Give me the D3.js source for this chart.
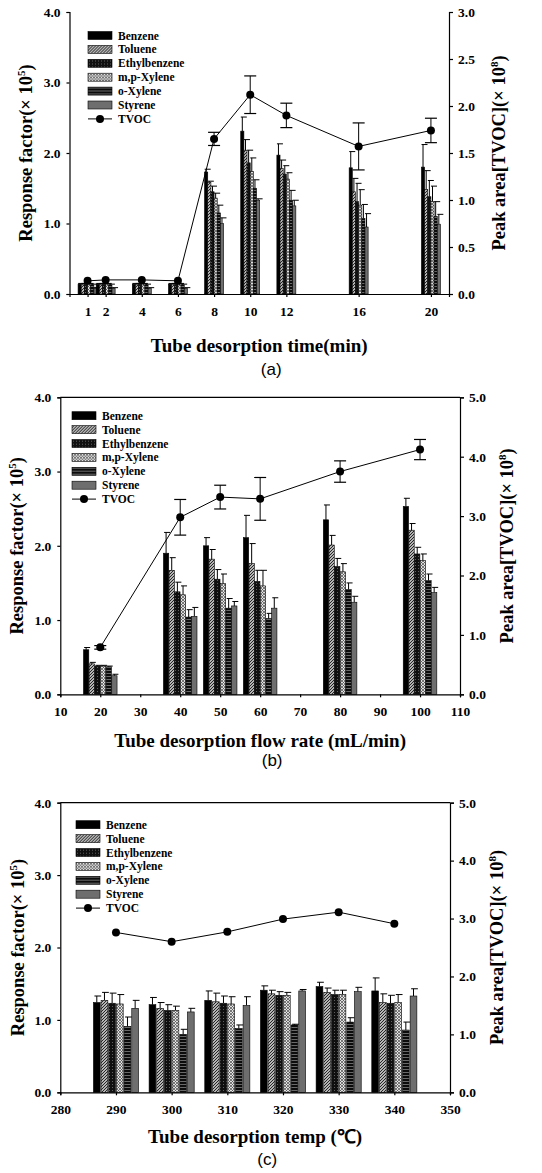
<!DOCTYPE html>
<html>
<head>
<meta charset="utf-8">
<script src="https://cdn.jsdelivr.net/npm/d3@7"></script>
<style>
  body { margin: 0; background: #fff; }
  svg text { font-family: "Liberation Serif", "Times New Roman", serif; font-weight: bold; fill: #000; }
</style>
</head>
<body>
<svg id="chart" width="542" height="1173"></svg>
<script>
// ---- data ----
const compounds = ["Benzene", "Toluene", "Ethylbenzene", "m,p-Xylene", "o-Xylene", "Styrene"];

// (a) desorption time
const timeX = [1, 2, 4, 6, 8, 10, 12, 16, 20];
const timeRF = [
  [0.14, 0.14, 0.14, 0.14, 1.73, 2.31, 1.97, 1.79, 1.80],
  [0.13, 0.13, 0.13, 0.13, 1.58, 2.04, 1.78, 1.45, 1.48],
  [0.14, 0.14, 0.14, 0.14, 1.45, 1.86, 1.70, 1.31, 1.38],
  [0.13, 0.13, 0.13, 0.13, 1.36, 1.74, 1.63, 1.26, 1.31],
  [0.13, 0.13, 0.13, 0.13, 1.15, 1.50, 1.33, 1.07, 1.10],
  [0.08, 0.08, 0.08, 0.08, 1.00, 1.33, 1.25, 0.95, 0.99]
];
const timeRFErr = [
  [0.01, 0.01, 0.01, 0.01, 0.04, 0.20, 0.16, 0.23, 0.32],
  [0.02, 0.02, 0.02, 0.02, 0.02, 0.15, 0.12, 0.19, 0.27],
  [0.01, 0.01, 0.01, 0.01, 0.08, 0.18, 0.12, 0.26, 0.23],
  [0.02, 0.02, 0.02, 0.02, 0.07, 0.19, 0.09, 0.22, 0.22],
  [0.01, 0.01, 0.01, 0.01, 0.11, 0.12, 0.14, 0.20, 0.21],
  [0.01, 0.01, 0.01, 0.01, 0.08, 0.02, 0.08, 0.19, 0.14]
];
const timeTVOC = [0.14, 0.15, 0.15, 0.14, 1.65, 2.12, 1.90, 1.57, 1.74];
const timeTVOCErr = [0, 0, 0, 0, 0.07, 0.20, 0.13, 0.25, 0.13];

// (b) desorption flow rate
const flowX = [20, 40, 50, 60, 80, 100];
const flowRF = [
  [0.60, 1.90, 2.00, 2.11, 2.35, 2.53],
  [0.41, 1.67, 1.82, 1.76, 2.01, 2.21],
  [0.38, 1.38, 1.55, 1.52, 1.72, 1.89],
  [0.38, 1.34, 1.49, 1.46, 1.65, 1.80],
  [0.37, 1.04, 1.16, 1.02, 1.41, 1.53],
  [0.25, 1.05, 1.19, 1.16, 1.24, 1.37]
];
const flowRFErr = [
  [0.03, 0.28, 0.11, 0.30, 0.20, 0.11],
  [0.02, 0.17, 0.13, 0.27, 0.13, 0.09],
  [0.01, 0.13, 0.13, 0.15, 0.11, 0.09],
  [0.01, 0.12, 0.13, 0.21, 0.11, 0.09],
  [0.01, 0.10, 0.13, 0.07, 0.09, 0.09],
  [0.02, 0.12, 0.06, 0.14, 0.08, 0.07]
];
const flowTVOC = [0.79, 2.98, 3.32, 3.29, 3.75, 4.12];
const flowTVOCErr = [0.03, 0.30, 0.20, 0.36, 0.18, 0.17];

// (c) desorption temperature
const tempX = [290, 300, 310, 320, 330, 340];
const tempRF = [
  [1.24, 1.21, 1.27, 1.41, 1.46, 1.40],
  [1.27, 1.16, 1.25, 1.36, 1.38, 1.24],
  [1.23, 1.13, 1.23, 1.34, 1.35, 1.23],
  [1.22, 1.13, 1.22, 1.34, 1.35, 1.24],
  [0.91, 0.80, 0.88, 0.93, 0.97, 0.86],
  [1.16, 1.11, 1.20, 1.40, 1.39, 1.33]
];
const tempRFErr = [
  [0.09, 0.10, 0.13, 0.06, 0.06, 0.18],
  [0.11, 0.08, 0.12, 0.05, 0.06, 0.12],
  [0.14, 0.08, 0.10, 0.05, 0.06, 0.11],
  [0.13, 0.06, 0.10, 0.04, 0.06, 0.11],
  [0.13, 0.07, 0.05, 0.01, 0.06, 0.11],
  [0.11, 0.05, 0.12, 0.02, 0.06, 0.10]
];
const tempTVOC = [2.76, 2.60, 2.77, 2.99, 3.11, 2.91];

const svg = d3.select("#chart");
const defs = svg.append("defs");

// fill patterns, one per compound
function pat(id, size, bg, draw) {
  const p = defs.append("pattern").attr("id", id)
    .attr("patternUnits", "userSpaceOnUse").attr("width", size).attr("height", size);
  p.append("rect").attr("width", size).attr("height", size).attr("fill", bg);
  draw(p);
}
pat("p-tol", 3, "#b4b4b4", p => {
  p.append("path").attr("d", "M0,3 L3,0 M-1,1 L1,-1 M2,4 L4,2").attr("stroke", "#262626").attr("stroke-width", 1);
});
pat("p-eth", 3, "#101010", p => {
  p.append("rect").attr("x", 1).attr("y", 1).attr("width", 1).attr("height", 1).attr("fill", "#606060");
});
pat("p-mp", 3, "#e0e0e0", p => {
  p.append("path").attr("d", "M0,0 L3,3 M0,3 L3,0").attr("stroke", "#4a4a4a").attr("stroke-width", 0.7);
});
pat("p-ox", 3, "#0c0c0c", p => {
  p.append("rect").attr("x", 0).attr("y", 1).attr("width", 3).attr("height", 1).attr("fill", "#6a6a6a");
});
const fills = ["#000", "url(#p-tol)", "url(#p-eth)", "url(#p-mp)", "url(#p-ox)", "#6e6e6e"];

function drawPanel(o) {
  const g = svg.append("g");
  const x = d3.scaleLinear().domain(o.xDomain).range([o.left, o.right]);
  const y = d3.scaleLinear().domain([0, 4]).range([o.bottom, o.top]);
  const y2 = d3.scaleLinear().domain([0, o.y2Max]).range([o.bottom, o.top]);

  // bars
  o.xs.forEach((xv, j) => {
    const band = d3.scaleBand().domain(compounds)
      .range([x(xv - o.groupW / 2), x(xv + o.groupW / 2)]).paddingInner(o.pad);
    compounds.forEach((c, i) => {
      const v = o.rf[i][j], e = o.rfErr[i][j];
      const bx = band(c), bw = band.bandwidth(), cx = bx + bw / 2;
      const capW = Math.max(bw, o.capMin);
      if (e > 0) {
        g.append("line").attr("x1", cx).attr("x2", cx).attr("y1", y(v)).attr("y2", y(v + e))
          .attr("stroke", "#000").attr("stroke-width", 1);
        g.append("line").attr("x1", cx - capW / 2 + o.capShift).attr("x2", cx + capW / 2 + o.capShift)
          .attr("y1", y(v + e)).attr("y2", y(v + e))
          .attr("stroke", "#000").attr("stroke-width", 1);
      }
      g.append("rect").attr("x", bx).attr("y", y(v)).attr("width", bw).attr("height", y(0) - y(v))
        .attr("fill", fills[i]).attr("stroke", "#000").attr("stroke-width", 0.6);
    });
  });

  // axes
  const yAxis = d3.axisLeft(y).tickValues([0, 1, 2, 3, 4]).tickFormat(d3.format(".1f"))
    .tickSizeOuter(0).tickSize(3).tickPadding(6);
  const y2Axis = d3.axisRight(y2).tickValues(o.y2Ticks).tickFormat(d3.format(".1f"))
    .tickSizeOuter(0).tickSize(4).tickPadding(5);
  const xAxis = d3.axisBottom(x).tickValues(o.xTicks).tickFormat(d3.format("d"))
    .tickSizeOuter(0).tickSize(3).tickPadding(9);
  [[yAxis, `translate(${o.left},0)`], [y2Axis, `translate(${o.right},0)`], [xAxis, `translate(0,${o.bottom})`]]
    .forEach(([ax, tr]) => {
      const a = g.append("g").attr("transform", tr).call(ax);
      a.selectAll("path,line").attr("stroke", "#000").attr("stroke-width", 1.2);
      a.selectAll("text").style("font-size", "13.5px")
        .style("font-family", '"Liberation Serif", serif').style("font-weight", "bold");
    });
  if (o.topLine) {
    g.append("line").attr("x1", o.left).attr("x2", o.right).attr("y1", o.top).attr("y2", o.top)
      .attr("stroke", "#000").attr("stroke-width", 1.2);
  }

  // TVOC line
  const pts = o.xs.map((xv, j) => ({ x: xv, v: o.tvoc[j], e: o.tvocErr ? o.tvocErr[j] : 0 }));
  g.append("path").datum(pts)
    .attr("d", d3.line().x(d => x(d.x)).y(d => y2(d.v)))
    .attr("fill", "none").attr("stroke", "#000").attr("stroke-width", 1);
  pts.filter(d => d.e > 0).forEach(d => {
    const cx = x(d.x);
    g.append("line").attr("x1", cx).attr("x2", cx).attr("y1", y2(d.v - d.e)).attr("y2", y2(d.v + d.e))
      .attr("stroke", "#000").attr("stroke-width", 1);
    [d.v - d.e, d.v + d.e].forEach(t => {
      g.append("line").attr("x1", cx - 6).attr("x2", cx + 6).attr("y1", y2(t)).attr("y2", y2(t))
        .attr("stroke", "#000").attr("stroke-width", 1.2);
    });
  });
  g.selectAll(".dot").data(pts).enter().append("circle")
    .attr("cx", d => x(d.x)).attr("cy", d => y2(d.v)).attr("r", 4).attr("fill", "#000");

  // legend
  const lg = g.append("g").attr("transform", `translate(${o.legX},${o.legY})`);
  compounds.forEach((c, i) => {
    lg.append("rect").attr("x", 0).attr("y", i * 13.9 - 4).attr("width", 24).attr("height", 8)
      .attr("fill", fills[i]).attr("stroke", "#000").attr("stroke-width", 0.6);
    lg.append("text").attr("x", 30).attr("y", i * 13.9).attr("dy", "0.35em")
      .style("font-size", "11.5px").text(c);
  });
  const ty = 6 * 13.9;
  lg.append("line").attr("x1", 0).attr("x2", 24).attr("y1", ty).attr("y2", ty).attr("stroke", "#000");
  lg.append("circle").attr("cx", 12).attr("cy", ty).attr("r", 4).attr("fill", "#000");
  lg.append("text").attr("x", 30).attr("y", ty).attr("dy", "0.35em").style("font-size", "11.5px").text("TVOC");

  // axis titles
  const midY = (o.top + o.bottom) / 2;
  const t1 = g.append("text").attr("transform", `translate(${o.yLabX},${midY}) rotate(-90)`)
    .attr("text-anchor", "middle").style("font-size", "18.5px");
  t1.append("tspan").text("Response factor(× 10");
  t1.append("tspan").attr("dy", -7).style("font-size", "11px").text("5");
  t1.append("tspan").attr("dy", 7).text(")");
  const t2 = g.append("text").attr("transform", `translate(${o.y2LabX},${midY}) rotate(-90)`)
    .attr("text-anchor", "middle").style("font-size", "18.5px");
  t2.append("tspan").text("Peak area[TVOC](× 10");
  t2.append("tspan").attr("dy", -7).style("font-size", "11px").text("8");
  t2.append("tspan").attr("dy", 7).text(")");

  g.append("text").attr("x", (o.left + o.right) / 2).attr("y", o.xLabY).attr("text-anchor", "middle")
    .style("font-size", "19px").text(o.xLabel);
  g.append("text").attr("x", (o.left + o.right) / 2 + 12).attr("y", o.tagY).attr("text-anchor", "middle")
    .style("font-family", '"Liberation Sans", Arial, sans-serif').style("font-weight", "normal")
    .style("font-size", "17px").text(o.tag);
}

drawPanel({
  left: 69.5, right: 449, top: 12, bottom: 294,
  xDomain: [0, 21], xTicks: timeX, xs: timeX, groupW: 1.05, pad: 0, capMin: 6, capShift: 1.5,
  rf: timeRF, rfErr: timeRFErr, tvoc: timeTVOC, tvocErr: timeTVOCErr,
  y2Max: 3, y2Ticks: [0, 0.5, 1, 1.5, 2, 2.5, 3], topLine: false,
  legX: 88, legY: 35.5, yLabX: 32, y2LabX: 505,
  xLabel: "Tube desorption time(min)", xLabY: 352, tagY: 375, tag: "(a)"
});
drawPanel({
  left: 60.3, right: 460, top: 397.3, bottom: 694.3,
  xDomain: [10, 110], xTicks: d3.range(10, 111, 10), xs: flowX, groupW: 8.4, pad: 0.06, capMin: 6, capShift: 1,
  rf: flowRF, rfErr: flowRFErr, tvoc: flowTVOC, tvocErr: flowTVOCErr,
  y2Max: 5, y2Ticks: [0, 1, 2, 3, 4, 5], topLine: true,
  legX: 72, legY: 415.7, yLabX: 23, y2LabX: 513,
  xLabel: "Tube desorption flow rate (mL/min)", xLabY: 747, tagY: 766, tag: "(b)"
});
drawPanel({
  left: 60.3, right: 450, top: 802.7, bottom: 1092.3,
  xDomain: [280, 350], xTicks: d3.range(280, 351, 10), xs: tempX, groupW: 8.1, pad: 0.12, capMin: 6, capShift: 1,
  rf: tempRF, rfErr: tempRFErr, tvoc: tempTVOC, tvocErr: null,
  y2Max: 5, y2Ticks: [0, 1, 2, 3, 4, 5], topLine: true,
  legX: 76, legY: 824.7, yLabX: 24, y2LabX: 503,
  xLabel: "Tube desorption temp (℃)", xLabY: 1143, tagY: 1165, tag: "(c)"
});
</script>
</body>
</html>
